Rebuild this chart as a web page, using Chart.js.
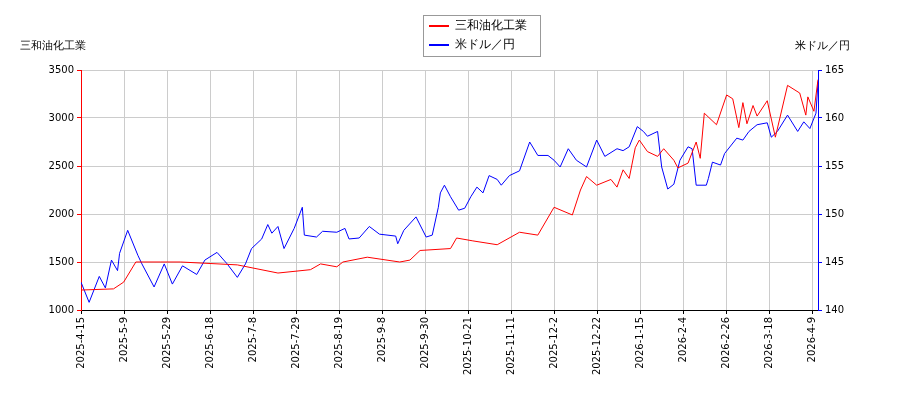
<!DOCTYPE html>
<html>
<head>
<meta charset="utf-8">
<script src="https://cdn.jsdelivr.net/npm/chart.js@4"></script>
<style>
  body { margin: 0; background: #fff; }
  #wrap { width: 900px; height: 400px; }
</style>
</head>
<body>
<div id="wrap"><canvas id="c"></canvas></div>
<script>
// x tick labels (one every 21.2 index units)
const tickLabels = ['2025-4-15','2025-5-9','2025-5-29','2025-6-18','2025-7-8','2025-7-29','2025-8-19','2025-9-8','2025-9-30',
  '2025-10-21','2025-11-11','2025-12-2','2025-12-22','2026-1-15','2026-2-4','2026-2-26','2026-3-18','2026-4-9'];

// 三和油化工業 (left axis)
const stockX = [0,16,21,27,39,49,77,97,113,118,126,129,141,157,162,167,182,185,193,205,216,225,233,242,246,249,254,261,264,267,270,273,275,279,284,287,292,294,299,303,305,307,313,318,321,324,326,328,331,333,338,342,348,354,357,358,361,363];
const stockY = [1208,1220,1290,1500,1500,1500,1470,1385,1420,1480,1450,1500,1550,1500,1520,1620,1640,1750,1720,1680,1810,1780,2070,1990,2250,2390,2300,2360,2280,2460,2370,2690,2770,2650,2600,2680,2560,2480,2530,2750,2580,3050,2930,3240,3200,2900,3160,2940,3130,3020,3180,2800,3340,3260,3030,3220,3070,3400];

// 米ドル／円 (right axis)
const fxX = [0,4,9,12,15,18,19,23,28,30,36,41,45,50,57,61,67,72,77,81,84,89,92,94,97,100,105,109,110,116,119,126,130,132,137,142,147,155,156,159,165,170,173,176,177,179,182,186,189,192,195,198,201,205,207,211,216,221,225,230,233,236,240,244,249,254,258,264,267,270,274,277,279,284,286,289,292,295,299,301,303,308,309,311,315,317,323,326,329,333,338,340,343,348,353,356,359,362,363];
const fxY = [142.9,140.8,143.5,142.3,145.2,144.1,145.9,148.3,145.7,144.8,142.4,144.8,142.7,144.6,143.7,145.2,146.0,144.8,143.4,144.8,146.4,147.4,148.9,148.0,148.7,146.4,148.5,150.7,147.8,147.6,148.2,148.1,148.5,147.4,147.5,148.7,147.9,147.7,146.9,148.3,149.7,147.6,147.8,150.7,152.2,153.0,151.8,150.4,150.6,151.8,152.8,152.2,154.0,153.6,153.0,154.0,154.5,157.5,156.1,156.1,155.6,154.9,156.8,155.6,154.9,157.7,156.0,156.8,156.6,157.0,159.1,158.6,158.1,158.6,154.9,152.6,153.1,155.6,157.0,156.8,153.0,153.0,153.7,155.4,155.1,156.3,157.9,157.7,158.6,159.3,159.5,158.0,158.6,160.3,158.6,159.6,158.9,160.5,163.8];

const FONT = 'DejaVu Sans';

const overlay = {
  id: 'overlay',
  afterDraw(chart) {
    const ctx = chart.ctx;
    ctx.save();
    ctx.font = '11px ' + FONT;
    ctx.fillStyle = '#000';
    ctx.textBaseline = 'middle';
    ctx.textAlign = 'left';
    ctx.fillText('三和油化工業', 20, 46);
    ctx.textAlign = 'right';
    ctx.fillText('米ドル／円', 850, 46);
    // legend
    ctx.fillStyle = '#fff';
    ctx.strokeStyle = '#999';
    ctx.lineWidth = 1;
    ctx.fillRect(423.5, 15.5, 117, 41);
    ctx.strokeRect(423.5, 15.5, 117, 41);
    const items = [['三和油化工業', 'red', 26], ['米ドル／円', 'blue', 45]];
    ctx.textAlign = 'left';
    ctx.font = '12px ' + FONT;
    items.forEach(([t, c, y]) => {
      ctx.strokeStyle = c;
      ctx.lineWidth = 2;
      ctx.beginPath(); ctx.moveTo(429, y); ctx.lineTo(449, y); ctx.stroke();
      ctx.fillStyle = '#000';
      ctx.fillText(t, 455, y);
    });
    ctx.restore();
  }
};

new Chart(document.getElementById('c'), {
  type: 'line',
  data: {
    datasets: [
      { label: '三和油化工業', data: stockX.map((x, i) => ({ x, y: stockY[i] })), yAxisID: 'y',
        borderColor: 'red', borderWidth: 1, pointRadius: 0, tension: 0 },
      { label: '米ドル／円', data: fxX.map((x, i) => ({ x, y: fxY[i] })), yAxisID: 'y1',
        borderColor: 'blue', borderWidth: 1, pointRadius: 0, tension: 0 }
    ]
  },
  options: {
    animation: false,
    responsive: true,
    maintainAspectRatio: false,
    layout: { padding: { top: 70, left: 0, right: 0, bottom: 0 } },
    plugins: { legend: { display: false }, tooltip: { enabled: false } },
    scales: {
      x: {
        type: 'linear', min: 0, max: 363,
        afterBuildTicks: s => { s.ticks = tickLabels.map((_, i) => ({ value: i * 21.2 })); },
        afterFit: s => { s.height = 90; },
        ticks: {
          autoSkip: false, maxRotation: 90, minRotation: 90,
          font: { family: FONT, size: 10 }, color: '#000',
          callback: (v, i) => tickLabels[i]
        },
        grid: { color: '#ccc', tickColor: '#000', tickLength: 4 },
        border: { color: '#000' }
      },
      y: {
        position: 'left', min: 1000, max: 3500,
        afterFit: s => { s.width = 81; },
        ticks: { stepSize: 500, font: { family: FONT, size: 10 }, color: '#000', callback: v => String(v) },
        grid: { color: '#ccc', tickColor: 'red', tickLength: 4 },
        border: { color: 'red', width: 1 }
      },
      y1: {
        position: 'right', min: 140, max: 165,
        afterFit: s => { s.width = 82; },
        ticks: { stepSize: 5, font: { family: FONT, size: 10 }, color: '#000', callback: v => String(v) },
        grid: { drawOnChartArea: false, tickColor: 'blue', tickLength: 4 },
        border: { color: 'blue', width: 1 }
      }
    }
  },
  plugins: [overlay]
});
</script>
</body>
</html>
